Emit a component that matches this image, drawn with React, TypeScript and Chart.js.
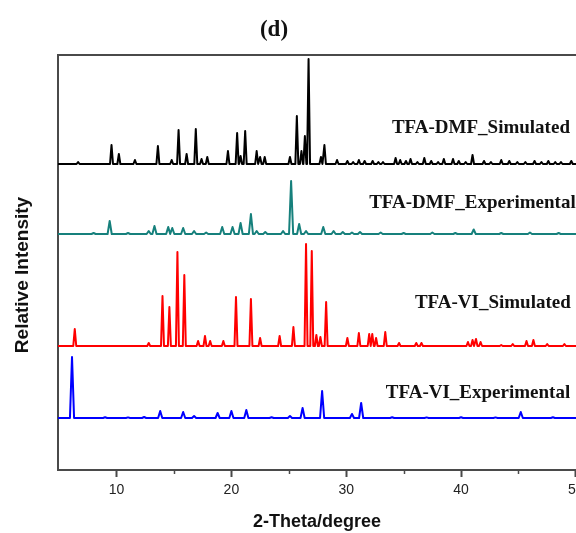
import React, { useEffect, useRef } from 'react';
import { Chart, registerables } from 'chart.js';

Chart.register(...registerables);

// ---- data ----
const X_MIN = 4.9;
const X_MAX = 52.1;
const Y_MIN = 0;
const Y_MAX = 415;

const xTickValues = [10, 20, 30, 40, 50];
const xTickLabels = ['10', '20', '30', '40', '50'];
const xMinorTicks = [15, 25, 35, 45];

const traceNames = ['TFA-DMF_Simulated', 'TFA-DMF_Experimental', 'TFA-VI_Simulated', 'TFA-VI_Experimental'];
const traceOffsets = [306, 236, 124, 52];

// [2-theta, intensity above trace baseline]
const dmfSimulatedPeaks: number[][] = [
  [6.65, 2], [9.56, 19], [10.2, 10], [11.6, 4], [13.6, 18], [14.8, 4], [15.4, 34], [16.1, 10],
  [16.9, 35], [17.4, 5], [17.9, 7], [19.7, 13], [20.5, 31], [20.8, 8], [21.2, 33], [22.2, 13],
  [22.5, 7], [22.9, 7], [25.1, 7], [25.7, 48], [26.1, 13], [26.4, 28], [26.72, 105], [27.8, 7],
  [28.1, 19], [29.2, 4], [30.1, 3], [30.6, 2], [31.1, 4], [31.6, 3], [32.3, 3], [32.8, 2],
  [33.2, 2], [34.3, 6], [34.7, 4], [35.2, 3], [35.6, 5], [36.2, 2], [36.8, 6], [37.4, 3],
  [38.0, 2], [38.5, 5], [39.3, 5], [39.8, 3], [40.4, 2], [41.0, 9], [42.0, 3], [42.6, 2],
  [43.5, 4], [44.2, 3], [44.9, 2], [45.6, 2], [46.4, 3], [47.0, 2], [47.6, 3], [48.2, 2],
  [48.7, 2], [49.6, 3], [50.5, 2], [51.2, 2],
];
const dmfExperimentalPeaks: number[][] = [
  [8.0, 1], [9.4, 13], [11.0, 1], [12.8, 3], [13.3, 8], [14.5, 7], [14.85, 6], [15.8, 6],
  [16.75, 3], [17.8, 1.5], [19.2, 7], [20.1, 7], [20.8, 11], [21.7, 20], [22.2, 3], [22.95, 2],
  [24.5, 3], [25.2, 53], [25.9, 10], [26.5, 3], [28.0, 7], [28.9, 3], [29.7, 2], [30.5, 1.5],
  [31.2, 2], [33.0, 1.5], [35.0, 1], [37.5, 1.5], [39.5, 1], [41.1, 4.5], [43.5, 1], [46.0, 1.5],
  [48.5, 1],
];
const viSimulatedPeaks: number[][] = [
  [6.36, 17], [12.8, 3], [14.0, 50], [14.6, 39], [15.3, 94], [15.9, 71], [17.1, 5], [17.7, 10],
  [18.15, 5], [19.3, 5], [20.4, 49], [21.7, 47], [22.5, 8], [24.2, 10], [25.4, 19], [26.5, 102],
  [27.0, 95], [27.4, 11], [27.75, 9], [28.25, 44], [30.1, 8], [31.1, 13], [32.0, 12], [32.27, 12],
  [32.6, 8], [33.4, 14], [34.6, 3], [36.1, 3], [36.55, 3], [40.6, 4], [41.0, 6], [41.3, 7],
  [41.7, 4], [43.5, 1], [44.5, 2], [45.7, 5], [46.3, 6], [47.5, 2], [49.0, 2],
];
const viExperimentalPeaks: number[][] = [
  [6.12, 61], [9.0, 0.8], [11.0, 0.6], [12.4, 1], [13.8, 7], [15.8, 6], [16.75, 2], [18.8, 5],
  [20.0, 7], [21.3, 8], [23.5, 0.8], [25.1, 2], [26.2, 10], [27.9, 27], [30.5, 4], [31.3, 15],
  [34.0, 0.8], [37.0, 0.6], [40.0, 0.8], [43.0, 0.6], [45.2, 6], [48.0, 0.8],
];

const tracePeaks = [dmfSimulatedPeaks, dmfExperimentalPeaks, viSimulatedPeaks, viExperimentalPeaks];

// ---- styling / annotation placement ----
const traceColors = ['#000000', '#16807c', '#ff0000', '#0000ff'];
const peakHalfWidths = [0.13, 0.18, 0.13, 0.18];
const labelXs = [33.98, 32.0, 35.98, 33.45];
const labelYs = [342, 267, 167, 77];

const SERIF = "'Liberation Serif', 'Times New Roman', serif";
const SANS = "'Liberation Sans', Arial, sans-serif";
const AXIS_COLOR = '#4a4a4a';

function buildTrace(peaks: number[][], offset: number, hw: number) {
  const pts: { x: number; y: number }[] = [
    { x: X_MIN, y: offset },
    { x: X_MAX, y: offset },
  ];
  for (const [p, h] of peaks) {
    pts.push({ x: p - hw, y: offset }, { x: p, y: offset + h }, { x: p + hw, y: offset });
  }
  pts.sort((a, b) => a.x - b.x);
  return pts;
}

const decorPlugin = {
  id: 'decor',
  afterDraw(chart: any) {
    const { ctx, chartArea } = chart;
    const xs = chart.scales.x;
    const ys = chart.scales.y;
    ctx.save();
    ctx.strokeStyle = AXIS_COLOR;
    ctx.lineWidth = 2;
    ctx.beginPath();
    ctx.moveTo(chartArea.left, chartArea.top);
    ctx.lineTo(chartArea.right, chartArea.top);
    ctx.lineTo(chartArea.right, chartArea.bottom);
    ctx.stroke();
    ctx.lineWidth = 1.5;
    for (const v of xMinorTicks) {
      const px = Math.round(xs.getPixelForValue(v)) + 0.5;
      ctx.beginPath();
      ctx.moveTo(px, chartArea.bottom);
      ctx.lineTo(px, chartArea.bottom + 4);
      ctx.stroke();
    }
    ctx.fillStyle = '#111';
    ctx.font = `bold 19px ${SERIF}`;
    ctx.textAlign = 'left';
    ctx.textBaseline = 'middle';
    traceNames.forEach((name, i) => {
      ctx.fillText(name, xs.getPixelForValue(labelXs[i]), ys.getPixelForValue(labelYs[i]));
    });
    ctx.textAlign = 'center';
    ctx.font = `bold 23px ${SERIF}`;
    ctx.fillText('(d)', 274, 30);
    ctx.font = `bold 18px ${SANS}`;
    ctx.fillText('2-Theta/degree', 317, 522);
    ctx.translate(23, 275);
    ctx.rotate(-Math.PI / 2);
    ctx.font = `bold 19px ${SANS}`;
    ctx.fillText('Relative Intensity', 0, 0);
    ctx.restore();
  },
};

export default function App() {
  const ref = useRef<HTMLCanvasElement | null>(null);
  useEffect(() => {
    if (!ref.current) return;
    const datasets = tracePeaks.map((peaks, i) => ({
      label: traceNames[i],
      data: buildTrace(peaks, traceOffsets[i], peakHalfWidths[i]),
      borderColor: traceColors[i],
      backgroundColor: traceColors[i],
      borderWidth: 2,
      borderJoinStyle: 'round' as const,
      pointRadius: 0,
      tension: 0,
      fill: false,
    }));
    const chart = new Chart(ref.current, {
      type: 'line',
      data: { datasets },
      options: {
        animation: false,
        responsive: false,
        layout: { padding: { top: 55, right: 20, bottom: 0, left: 0 } },
        plugins: { legend: { display: false }, tooltip: { enabled: false }, title: { display: false } },
        scales: {
          x: {
            type: 'linear',
            min: X_MIN,
            max: X_MAX,
            afterBuildTicks: (scale: any) => {
              scale.ticks = xTickValues.map((v) => ({ value: v }));
            },
            afterFit: (scale: any) => {
              scale.height = 63;
            },
            ticks: {
              callback: (v: any) => {
                const idx = xTickValues.indexOf(Number(v));
                return idx >= 0 ? xTickLabels[idx] : '';
              },
              font: { family: SANS, size: 14 },
              color: '#222',
              padding: 5,
              maxRotation: 0,
              autoSkip: false,
            },
            grid: {
              drawOnChartArea: false,
              drawTicks: true,
              tickLength: 7,
              tickColor: AXIS_COLOR,
              tickWidth: 2,
            },
            border: { display: true, color: AXIS_COLOR, width: 2 },
          },
          y: {
            type: 'linear',
            min: Y_MIN,
            max: Y_MAX,
            afterFit: (scale: any) => {
              scale.width = 58;
            },
            ticks: { display: false },
            grid: { drawOnChartArea: false, drawTicks: false },
            border: { display: true, color: AXIS_COLOR, width: 2 },
          },
        },
      },
      plugins: [decorPlugin],
    });
    return () => chart.destroy();
  }, []);

  return (
    <div
      style={{
        position: 'fixed',
        left: 0,
        top: 0,
        width: 576,
        height: 533,
        overflow: 'hidden',
        background: '#fff',
      }}
    >
      <canvas ref={ref} width={620} height={533} style={{ display: 'block' }} />
    </div>
  );
}
